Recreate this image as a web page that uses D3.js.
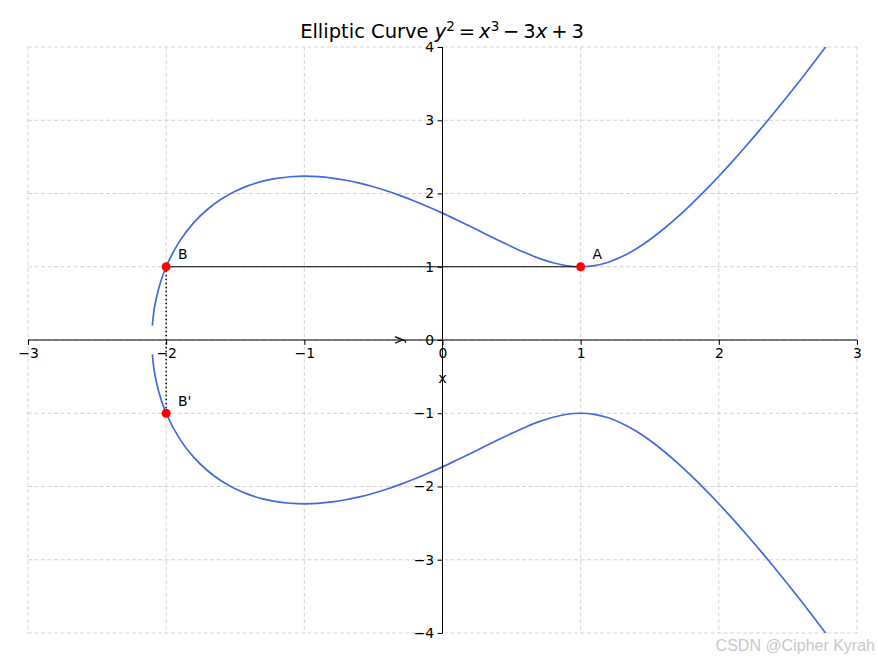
<!DOCTYPE html>
<html>
<head>
<meta charset="utf-8">
<script src="https://cdn.jsdelivr.net/npm/d3@7"></script>
<style>
body { margin: 0; background: #fff; }
svg { font-family: "DejaVu Sans", sans-serif; }
.grid line { stroke: #b0b0b0; stroke-opacity: 0.7; stroke-dasharray: 4,2.5; stroke-width: 0.8; }
.axis path, .axis line { stroke: #000; stroke-width: 1; }
.axis text { font-size: 13.9px; fill: #000; }
</style>
</head>
<body>
<script>
// curve points
var curveX = [-2.1, -2.09, -2.08, -2.05, -2.0, -1.9, -1.8, -1.7, -1.6, -1.5, -1.4, -1.3, -1.2, -1.1, -1.0,
  -0.9, -0.8, -0.7, -0.6, -0.5, -0.4, -0.3, -0.2, -0.1, 0.0, 0.1, 0.2, 0.3, 0.4, 0.5, 0.6, 0.7, 0.8, 0.9, 1.0,
  1.1, 1.2, 1.3, 1.4, 1.5, 1.6, 1.7, 1.8, 1.9, 2.0, 2.1, 2.2, 2.3, 2.4, 2.5, 2.6, 2.7, 2.8];
var upperY = [0.197, 0.375, 0.491, 0.731, 1.0, 1.357, 1.603, 1.785, 1.925, 2.031, 2.111, 2.169, 2.207, 2.229, 2.236,
  2.230, 2.211, 2.181, 2.141, 2.092, 2.034, 1.968, 1.895, 1.816, 1.732, 1.643, 1.552, 1.458, 1.365, 1.275, 1.190, 1.115, 1.055, 1.014, 1.0,
  1.015, 1.062, 1.139, 1.243, 1.369, 1.515, 1.677, 1.853, 2.039, 2.236, 2.442, 2.655, 2.875, 3.102, 3.335, 3.574, 3.819, 4.068];
var lowerY = [-0.197, -0.375, -0.491, -0.731, -1.0, -1.357, -1.603, -1.785, -1.925, -2.031, -2.111, -2.169, -2.207, -2.229, -2.236,
  -2.230, -2.211, -2.181, -2.141, -2.092, -2.034, -1.968, -1.895, -1.816, -1.732, -1.643, -1.552, -1.458, -1.365, -1.275, -1.190, -1.115, -1.055, -1.014, -1.0,
  -1.015, -1.062, -1.139, -1.243, -1.369, -1.515, -1.677, -1.853, -2.039, -2.236, -2.442, -2.655, -2.875, -3.102, -3.335, -3.574, -3.819, -4.068];

var pointNames = ["A", "B", "B'"];
var pointX = [1, -2, -2];
var pointY = [1, 1, -1];

var xTicks = [-3, -2, -1, 0, 1, 2, 3];
var yTicks = [-4, -3, -2, -1, 0, 1, 2, 3, 4];

var W = 878, H = 659;
var margin = {top: 47, right: 21, bottom: 26, left: 28},
    width = W - margin.left - margin.right,
    height = H - margin.top - margin.bottom;

var x = d3.scaleLinear().domain([-3, 3]).range([0, width]);
var y = d3.scaleLinear().domain([-4, 4]).range([height, 0]);

var root = d3.select("body").append("svg")
    .attr("width", W)
    .attr("height", H);

var svg = root.append("g")
    .attr("transform", "translate(" + margin.left + "," + margin.top + ")");

svg.append("defs").append("clipPath").attr("id", "clip")
  .append("rect").attr("width", width).attr("height", height);

// grid
var grid = svg.append("g").attr("class", "grid");
grid.selectAll(".gx").data(xTicks).enter().append("line")
    .attr("x1", function(d) { return x(d); }).attr("x2", function(d) { return x(d); })
    .attr("y1", 0).attr("y2", height);
grid.selectAll(".gy").data(yTicks).enter().append("line")
    .attr("y1", function(d) { return y(d); }).attr("y2", function(d) { return y(d); })
    .attr("x1", 0).attr("x2", width);

// curve
var line = d3.line()
    .x(function(d) { return x(d[0]); })
    .y(function(d) { return y(d[1]); })
    .curve(d3.curveCatmullRom);

var plot = svg.append("g").attr("clip-path", "url(#clip)");
[upperY, lowerY].forEach(function(ys) {
  plot.append("path")
    .datum(curveX.map(function(v, i) { return [v, ys[i]]; }))
    .attr("d", line)
    .attr("fill", "none")
    .attr("stroke", "#4169e1")
    .attr("stroke-width", 1.7);
});

// axes through origin
var xAxis = d3.axisBottom(x).tickValues(xTicks).tickSize(4.9).tickPadding(3.5)
    .tickFormat(function(d) { return d < 0 ? "\u2212" + Math.abs(d) : d; });
var yAxis = d3.axisLeft(y).tickValues(yTicks).tickSize(4.9).tickPadding(3.5)
    .tickFormat(function(d) { return d < 0 ? "\u2212" + Math.abs(d) : d; });

svg.append("g").attr("class", "axis")
    .attr("transform", "translate(0," + y(0) + ")")
    .call(xAxis)
    .call(function(g) { g.select(".domain").attr("d", "M0,0H" + width); });
svg.append("g").attr("class", "axis")
    .attr("transform", "translate(" + x(0) + ",0)")
    .call(yAxis)
    .call(function(g) { g.select(".domain").attr("d", "M0,0V" + height); });

svg.selectAll(".axis text").attr("font-family", "DejaVu Sans");

// axis labels
svg.append("text")
    .attr("x", x(0)).attr("y", y(0) + 43)
    .attr("text-anchor", "middle")
    .attr("font-size", "14.5px")
    .text("x");
svg.append("text")
    .attr("transform", "translate(" + (x(0) - 40) + "," + y(0) + ") rotate(-90)")
    .attr("text-anchor", "middle")
    .attr("font-size", "14.5px")
    .text("y");

// chord B-A and dotted reflection B-B'
svg.append("line")
    .attr("x1", x(pointX[1])).attr("y1", y(pointY[1]))
    .attr("x2", x(pointX[0])).attr("y2", y(pointY[0]))
    .attr("stroke", "#000").attr("stroke-width", 1.2);
svg.append("line")
    .attr("x1", x(pointX[1])).attr("y1", y(pointY[1]))
    .attr("x2", x(pointX[2])).attr("y2", y(pointY[2]))
    .attr("stroke", "#000").attr("stroke-width", 1.5)
    .attr("stroke-dasharray", "1.5,2.5");

// points
svg.selectAll(".pt").data(pointNames).enter().append("circle")
    .attr("cx", function(d, i) { return x(pointX[i]); })
    .attr("cy", function(d, i) { return y(pointY[i]); })
    .attr("r", 4.5)
    .attr("fill", "red");
svg.selectAll(".lbl").data(pointNames).enter().append("text")
    .attr("x", function(d, i) { return x(pointX[i] + 0.085); })
    .attr("y", function(d, i) { return y(pointY[i] + 0.1); })
    .attr("font-size", "13.9px")
    .text(function(d) { return d; });

// title
var title = root.append("text")
    .attr("x", 442).attr("y", 38)
    .attr("text-anchor", "middle")
    .attr("font-size", "19.5px");
title.append("tspan").text("Elliptic Curve ");
title.append("tspan").attr("font-style", "italic").text("y");
title.append("tspan").attr("font-size", "13.5px").attr("dy", -7.5).text("2");
title.append("tspan").attr("dy", 7.5).text("\u2009=\u2009");
title.append("tspan").attr("font-style", "italic").text("x");
title.append("tspan").attr("font-size", "13.5px").attr("dy", -7.5).text("3");
title.append("tspan").attr("dy", 7.5).text("\u2009\u2212\u20093");
title.append("tspan").attr("font-style", "italic").text("x");
title.append("tspan").text("\u2009+\u20093");

// watermark
root.append("text")
    .attr("x", 875).attr("y", 651)
    .attr("text-anchor", "end")
    .attr("font-family", "Liberation Sans, Arial, sans-serif")
    .attr("font-size", "16px")
    .attr("fill", "#c8c8c8")
    .text("CSDN @Cipher Kyrah");
</script>
</body>
</html>
